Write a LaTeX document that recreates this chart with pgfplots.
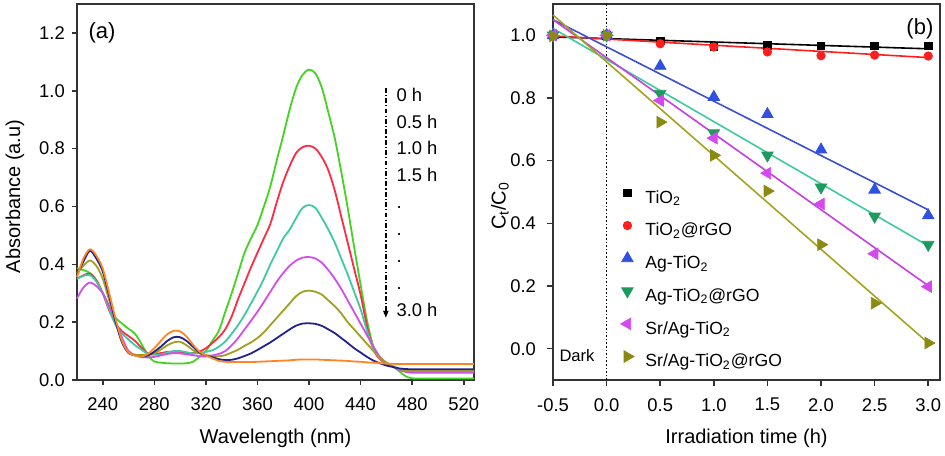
\documentclass[border=0pt]{standalone}
\usepackage{fontspec}
\setmainfont{Liberation Sans}
\usepackage{pgfplots}
\pgfplotsset{compat=1.18}
\usepackage{pgfplotstable}
\usetikzlibrary{arrows.meta}

% spectra colours (0 h ... 3.0 h)
\definecolor{sA}{HTML}{44D322}
\definecolor{sB}{HTML}{FF2A44}
\definecolor{sC}{HTML}{3FC9A2}
\definecolor{sD}{HTML}{D24EEA}
\definecolor{sE}{HTML}{A0A020}
\definecolor{sF}{HTML}{22228F}
\definecolor{sG}{HTML}{FF8424}
% kinetics colours
\definecolor{kRed}{HTML}{FF1E1E}
\definecolor{kBlue}{HTML}{3050E0}
\definecolor{kBlueL}{HTML}{3A4FD4}
\definecolor{kGrn}{HTML}{1F9A5E}
\definecolor{kGrnL}{HTML}{3CCB9C}
\definecolor{kMag}{HTML}{D448F0}
\definecolor{kMagL}{HTML}{C63FE0}
\definecolor{kOli}{HTML}{8A8A12}
\definecolor{kOliL}{HTML}{A3A31E}

\pgfplotstableread{
wl  h0    h05   h10   h15   h20   h25   h30
220 0.386 0.350 0.350 0.282 0.369 0.363 0.356
225 0.380 0.362 0.360 0.320 0.395 0.410 0.420
230 0.370 0.368 0.363 0.337 0.413 0.447 0.452
235 0.345 0.345 0.340 0.325 0.395 0.420 0.430
240 0.300 0.300 0.300 0.300 0.350 0.375 0.385
245 0.255 0.240 0.245 0.255 0.275 0.290 0.300
250 0.215 0.195 0.190 0.200 0.200 0.200 0.210
255 0.195 0.168 0.160 0.145 0.130 0.130 0.135
260 0.177 0.152 0.140 0.100 0.095 0.093 0.095
265 0.160 0.135 0.120 0.087 0.087 0.085 0.085
270 0.125 0.112 0.105 0.080 0.086 0.081 0.081
275 0.085 0.092 0.090 0.078 0.087 0.085 0.090
280 0.064 0.090 0.087 0.080 0.092 0.098 0.110
285 0.060 0.093 0.088 0.085 0.105 0.115 0.135
290 0.058 0.097 0.095 0.090 0.120 0.135 0.158
295 0.057 0.098 0.100 0.093 0.130 0.148 0.170
300 0.057 0.097 0.100 0.092 0.132 0.148 0.168
305 0.058 0.094 0.096 0.089 0.120 0.135 0.150
310 0.063 0.093 0.092 0.086 0.103 0.115 0.122
315 0.080 0.098 0.093 0.082 0.092 0.095 0.098
320 0.100 0.110 0.097 0.081 0.086 0.085 0.085
325 0.135 0.128 0.103 0.085 0.083 0.079 0.075
330 0.170 0.148 0.115 0.090 0.082 0.072 0.066
335 0.235 0.175 0.133 0.100 0.086 0.069 0.063
340 0.300 0.220 0.160 0.120 0.095 0.070 0.062
345 0.370 0.280 0.190 0.145 0.105 0.075 0.062
350 0.440 0.335 0.225 0.175 0.118 0.083 0.062
355 0.490 0.390 0.265 0.205 0.130 0.092 0.062
360 0.536 0.440 0.306 0.236 0.145 0.104 0.063
365 0.600 0.490 0.350 0.270 0.165 0.117 0.064
370 0.670 0.540 0.400 0.305 0.190 0.130 0.065
375 0.760 0.615 0.445 0.340 0.215 0.145 0.066
380 0.845 0.685 0.490 0.370 0.240 0.160 0.067
385 0.935 0.740 0.520 0.395 0.265 0.175 0.068
390 1.010 0.785 0.560 0.413 0.290 0.188 0.070
395 1.055 0.805 0.595 0.423 0.305 0.195 0.071
400 1.073 0.810 0.605 0.425 0.309 0.196 0.071
405 1.060 0.800 0.595 0.420 0.305 0.194 0.071
410 1.010 0.770 0.560 0.405 0.295 0.187 0.070
415 0.925 0.725 0.520 0.380 0.275 0.175 0.069
420 0.835 0.655 0.475 0.350 0.255 0.162 0.068
425 0.720 0.565 0.420 0.315 0.230 0.145 0.067
430 0.595 0.475 0.365 0.275 0.200 0.128 0.066
435 0.460 0.385 0.305 0.235 0.175 0.110 0.064
440 0.330 0.295 0.245 0.195 0.150 0.095 0.063
445 0.205 0.185 0.170 0.155 0.125 0.080 0.061
450 0.115 0.105 0.108 0.115 0.100 0.067 0.060
455 0.075 0.072 0.075 0.080 0.078 0.058 0.058
460 0.058 0.057 0.058 0.060 0.060 0.050 0.057
465 0.047 0.047 0.047 0.047 0.047 0.045 0.056
470 0.030 0.038 0.035 0.035 0.038 0.040 0.055
475 0.013 0.032 0.030 0.028 0.033 0.038 0.055
480 0.006 0.030 0.028 0.025 0.032 0.037 0.055
490 0.005 0.030 0.028 0.025 0.032 0.037 0.055
500 0.005 0.030 0.028 0.025 0.032 0.037 0.055
510 0.005 0.030 0.028 0.025 0.032 0.037 0.055
528 0.005 0.030 0.028 0.025 0.032 0.037 0.055
}\spectra

% C_t/C_0 measurements
\pgfplotstableread{
t    ti    tig   ag    agg   sr    srg
-0.5 1.000 1.000 1.000 1.000 1.000 0.998
0.0  1.000 0.997 1.000 1.000 1.000 1.000
0.5  0.982 0.973 0.902 0.814 0.792 0.723
1.0  0.965 0.963 0.803 0.688 0.672 0.617
1.5  0.968 0.947 0.748 0.617 0.560 0.503
2.0  0.966 0.935 0.635 0.515 0.462 0.332
2.5  0.966 0.937 0.507 0.422 0.303 0.145
3.0  0.966 0.934 0.425 0.332 0.198 0.018
}\kinetics

% linear fits
\pgfplotstableread{
t    ti    tig   ag    agg   sr    srg
-0.5 0.995 0.998 1.050 1.022 1.050 1.065
3.0  0.957 0.929 0.443 0.328 0.201 0.018
}\fits

\pgfplotsset{
  panel/.style={
    scale only axis, clip=false,
    axis line style={black!80, line width=0.9pt},
    tick style={black!80, line width=0.8pt},
    tick align=outside, major tick length=2.6pt,
    xtick pos=bottom, ytick pos=left,
    ticklabel style={font=\fontsize{9.2}{11}\selectfont},
    label style={font=\fontsize{10}{12}\selectfont},
    /pgf/number format/assume math mode=true,
    xticklabel shift=2.6pt,
  },
  onedec/.style={/pgf/number format/.cd, fixed, fixed zerofill, precision=1},
}

\begin{document}
\begin{tikzpicture}
\useasboundingbox (0,0) rectangle (472.5pt,227.5pt);

% ---------------- (a) spectra
\begin{axis}[panel,
  at={(38.5pt,225.5pt)}, anchor=north west,
  width=198.5pt, height=188pt,
  xmin=220, xmax=528, ymin=0, ymax=1.3,
  xtick={240,280,320,360,400,440,480,520},
  ytick={0,0.2,0.4,0.6,0.8,1.0,1.2},
  yticklabel style={onedec},
  xlabel={Wavelength (nm)}, ylabel={Absorbance (a.u)},
  xlabel style={at={(axis description cs:0.5,-0.154)}, anchor=center},
  ylabel style={at={(axis description cs:-0.156,0.488)}, anchor=center},
]
\addplot[sA, line width=0.9pt, smooth] table[x=wl, y=h0] {\spectra};
\addplot[sB, line width=0.9pt, smooth] table[x=wl, y=h05] {\spectra};
\addplot[sC, line width=0.9pt, smooth] table[x=wl, y=h10] {\spectra};
\addplot[sD, line width=0.9pt, smooth] table[x=wl, y=h15] {\spectra};
\addplot[sE, line width=0.9pt, smooth] table[x=wl, y=h20] {\spectra};
\addplot[sF, line width=0.9pt, smooth] table[x=wl, y=h25] {\spectra};
\addplot[sG, line width=0.9pt, smooth] table[x=wl, y=h30] {\spectra};

\node[font=\fontsize{11}{13}\selectfont] at (rel axis cs:0.063,0.923) {(a)};
\draw[black, line width=0.7pt, dash pattern=on 2.4pt off 1.1pt on 0.6pt off 1.1pt,
      -{Triangle[length=3.5pt,width=2.6pt]}]
  (axis cs:459.6,1.01) -- (axis cs:459.6,0.215);
\begin{scope}[every node/.style={anchor=base west, inner sep=0pt,
    font=\fontsize{9.2}{11}\selectfont}]
  \node at (axis cs:467.6,0.964) {0 h};
  \node at (axis cs:467.6,0.871) {0.5 h};
  \node at (axis cs:467.6,0.778) {1.0 h};
  \node at (axis cs:467.6,0.685) {1.5 h};
  \node at (axis cs:467.6,0.592) {.};
  \node at (axis cs:467.6,0.499) {.};
  \node at (axis cs:467.6,0.406) {.};
  \node at (axis cs:467.6,0.312) {.};
  \node at (axis cs:467.6,0.219) {3.0 h};
\end{scope}
\end{axis}

% ---------------- (b) kinetics
\begin{axis}[panel,
  at={(276.5pt,225.5pt)}, anchor=north west,
  width=193.5pt, height=188pt,
  xmin=-0.5, xmax=3.11, ymin=-0.1, ymax=1.1,
  xtick={-0.5,0,0.5,1,1.5,2,2.5,3},
  ytick={0,0.2,0.4,0.6,0.8,1.0},
  xticklabel style={onedec}, yticklabel style={onedec},
  major tick length=3pt, yticklabel shift=2pt,
  xlabel={Irradiation time (h)}, ylabel={C\textsubscript{t}/C\textsubscript{0}},
  xlabel style={at={(axis description cs:0.5,-0.154)}, anchor=center},
  ylabel style={at={(axis description cs:-0.137,0.463)}, anchor=center},
  legend image code/.code={%
    \path[draw=none, fill=none] (0pt,0pt) rectangle (10pt,6.4pt);
    \draw[#1] plot coordinates {(5pt,3.2pt)};},
  legend cell align=left,
  legend style={draw=none, fill=none, inner sep=0pt,
    at={(axis cs:0.097,0.519)}, anchor=north west,
    font=\fontsize{8.8}{10}\selectfont,
    nodes={inner sep=0pt, text height=6.4pt, text depth=2.6pt},
    row sep=5.45pt, column sep=4pt},
]
\addplot[black, densely dotted, line width=0.8pt, forget plot]
  coordinates {(0,-0.1) (0,1.1)};
\addplot[black, line width=0.8pt, forget plot] table[x=t, y=ti] {\fits};
\addplot[kRed, line width=0.8pt, forget plot] table[x=t, y=tig] {\fits};
\addplot[kBlueL, line width=0.8pt, forget plot] table[x=t, y=ag] {\fits};
\addplot[kGrnL, line width=0.8pt, forget plot] table[x=t, y=agg] {\fits};
\addplot[kMagL, line width=0.8pt, forget plot] table[x=t, y=sr] {\fits};
\addplot[kOliL, line width=0.8pt, forget plot] table[x=t, y=srg] {\fits};

\addplot[only marks, mark=square*, mark size=1.9pt, black] table[x=t, y=ti] {\kinetics};
\addlegendentry{TiO\textsubscript{2}}
\addplot[only marks, mark=*, mark size=2.1pt, kRed] table[x=t, y=tig] {\kinetics};
\addlegendentry{TiO\textsubscript{2}@rGO}
\addplot[only marks, mark=triangle*, mark size=3.3pt, kBlue] table[x=t, y=ag] {\kinetics};
\addlegendentry{Ag-TiO\textsubscript{2}}
\addplot[only marks, mark=triangle*, mark options={rotate=180}, mark size=3.3pt, kGrn] table[x=t, y=agg] {\kinetics};
\addlegendentry{Ag-TiO\textsubscript{2}@rGO}
\addplot[only marks, mark=triangle*, mark options={rotate=90}, mark size=3.3pt, kMag] table[x=t, y=sr] {\kinetics};
\addlegendentry{Sr/Ag-TiO\textsubscript{2}}
\addplot[only marks, mark=triangle*, mark options={rotate=-90}, mark size=3.3pt, kOli] table[x=t, y=srg] {\kinetics};
\addlegendentry{Sr/Ag-TiO\textsubscript{2}@rGO}

\node[font=\fontsize{11}{13}\selectfont] at (rel axis cs:0.948,0.934) {(b)};
\node[font=\fontsize{8.3}{10}\selectfont] at (axis cs:-0.276,-0.022) {Dark};
\end{axis}
\end{tikzpicture}
\end{document}
